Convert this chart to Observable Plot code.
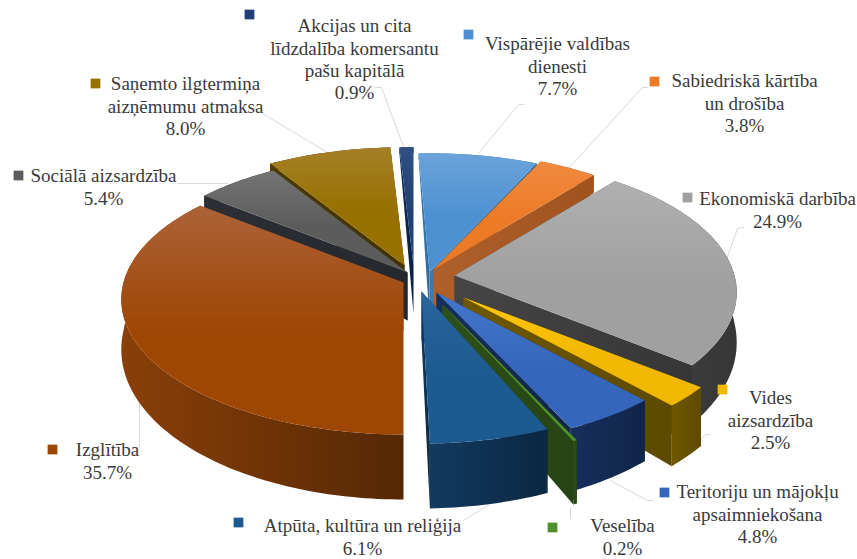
<!DOCTYPE html>
<html><head><meta charset="utf-8">
<style>html,body{margin:0;padding:0;background:#fff}svg{display:block}</style>
<script src="https://cdn.jsdelivr.net/npm/d3@7"></script>
<script src="https://cdn.jsdelivr.net/npm/@observablehq/plot@0.6"></script>
</head><body><div id="chart"></div>
<script>
// Data
const categories = ["Vispārējie valdības\ndienesti","Sabiedriskā kārtība\nun drošība","Ekonomiskā darbība","Vides\naizsardzība","Teritoriju un mājokļu\napsaimniekošana","Veselība","Atpūta, kultūra un reliģija","Izglītība","Sociālā aizsardzība","Saņemto ilgtermiņa\naizņēmumu atmaksa","Akcijas un cita\nlīdzdalība komersantu\npašu kapitālā"];
const shares = [7.7,3.8,24.9,2.5,4.8,0.2,6.1,35.7,5.4,8.0,0.9];

// Styles and layout (one entry per slice, same order)
const topLight = ["#6ba3da","#f08a3f","#b0b0b0","#ffc60a","#4478cc","#6bb03c","#2a659b","#ad6238","#747474","#a68026","#2f4f85"];
const topDark  = ["#4c90d2","#ed7a26","#a0a0a0","#f2b800","#3566bb","#4f8f2c","#1d5a90","#9e4604","#5c5c5c","#977000","#214174"];
const wallLight= ["#3c7cb2","#b0602a","#454545","#6f5800","#162f5c","#2d5018","#123a60","#8a3f08","#2c3036","#4f3c00","#0f2a55"];
const wallDark = ["#33699a","#a0521d","#363636","#5c4a00","#102548","#264414","#0b2741","#552805","#24272c","#3f3000","#0a1f42"];
const pull = [[1,-1],[5,-3],[26,3],[35,25],[8,20],[14,32],[-7,19],[-25,10],[-21,0],[-24,-7],[-15,-7]];
const turn = [-2.5,-2.5,-2.5,-2.5,-2.5,-2.5,-1.5,0,0,0,0];
const wallScale = [1,1.7,1,1,1,1,1,1,1,1,1];
const drawOrder = [9,8,10,0,1,2,3,4,5,6,7];
const centre = [428,272], R = 280, tilt = 0.475, persp = 0.125;

const project = (u,v) => { const s = 1/(1-persp*v); return [R*u*s, R*tilt*v*s]; };
const depth = v => v>=0 ? 48+17*v : 6+42*Math.pow(1+v,1.5);
const ends = d3.cumsum(shares), total = ends[ends.length-1];

const faces = [];
const face = (pts,fill) => faces.push({fill,pts});
drawOrder.forEach(i=>{
  const rot = turn[i]*Math.PI/180;
  const a0 = (i? ends[i-1]:0)/total*2*Math.PI+rot, a1 = ends[i]/total*2*Math.PI+rot;
  const ax = centre[0]+pull[i][0], ay = centre[1]+pull[i][1];
  const n = Math.max(2,Math.ceil((a1-a0)/0.02));
  const arc = d3.range(n+1).map(k=>{
    const a = a0+(a1-a0)*k/n, u=Math.sin(a), v=-Math.cos(a), [px,py]=project(u,v);
    return {x:ax+px,y:ay+py,d:depth(v)*(v<0?wallScale[i]:1)};
  });
  const apex = {x:ax,y:ay,d:depth(0)};
  const low = p=>({x:p.x,y:p.y+p.d});
  const first = arc[0], last = arc[arc.length-1];
  face([apex,first,low(first),low(apex)],`url(#w${i})`);
  face([apex,last,low(last),low(apex)],`url(#w${i})`);
  face([...arc,...arc.slice().reverse().map(low)],`url(#w${i})`);
  face([apex,...arc],`url(#t${i})`);
});

const gradient = (id,c0,c1,horizontal,mid) => `<linearGradient id="${id}" x1="0" y1="0" x2="${horizontal?1:0}" y2="${horizontal?0:1}"><stop offset="0" stop-color="${c0}"/><stop offset="${mid}" stop-color="${c1}"/></linearGradient>`;
const defsMark = () => {
  const g = document.createElementNS("http://www.w3.org/2000/svg","defs");
  g.innerHTML = shares.map((_,i)=>gradient(`t${i}`,topLight[i],topDark[i],false,0.55)+gradient(`w${i}`,wallLight[i],wallDark[i],true,1)).join("");
  return g;
};

// Labels
const valueText = shares.map(v=>v.toFixed(1)+"%");
const labelText = categories.map((c,i)=>c+"\n"+valueText[i]);
const labelAt = [[557,34],[744,71],[777,189],[770,388],[757,482],[622,516],[362,516],[107,440],[103,166],[185,74],[354,16]];
const keyAt   = [[468,34],[654,81],[687,197],[722,389],[664,492],[552,527],[238,522],[52,449],[18,175],[95,83],[249,14]];
const leaderAt = [
 [[523,104],[518,104],[478,153]],
 [[647,87],[642,87],[568,168]],
 [[743,227],[737,228],[725,262]],
 [[710,434],[705,434],[693,447],[675,462]],
 [[610,480],[647,500],[652,500]],
 [[570,508],[570,518]],
 [[490,503],[463,520]],
 [[139,403],[139,447]],
 [[177,183],[227,183]],
 [[262,113],[327,152]],
 [[375,87],[381,87],[403,146]]
];
const labels = labelText.map((text,i)=>({text,x:labelAt[i][0],y:labelAt[i][1]}));
const keys = keyAt.map((p,i)=>({x:p[0],y:p[1],fill:topDark[i]}));

const plot = Plot.plot({
  width:857,height:559,margin:0,
  x:{type:"linear",domain:[0,857],range:[0,857],axis:null},
  y:{type:"linear",domain:[0,559],range:[0,559],axis:null},
  style:{background:"#fff"},
  marks:[
    defsMark,
    ...leaderAt.map(l=>Plot.line(l,{x:d=>d[0],y:d=>d[1],stroke:"#d9d9d9",strokeWidth:1,curve:"linear"})),
    ...faces.map(f=>Plot.line(f.pts,{x:"x",y:"y",fill:f.fill,stroke:"none",curve:"linear-closed"})),
    Plot.dot(keys,{x:"x",y:"y",symbol:"square",r:5.5,fill:d=>d.fill,stroke:"none"}),
    Plot.text(labels,{x:"x",y:"y",text:"text",lineAnchor:"top",lineHeight:1.17,textAnchor:"middle",fontFamily:"Liberation Serif",fontSize:19,fill:"#3a3a3a"})
  ],
  color:{type:"identity"}
});
document.getElementById("chart").append(plot);
</script></body></html>
